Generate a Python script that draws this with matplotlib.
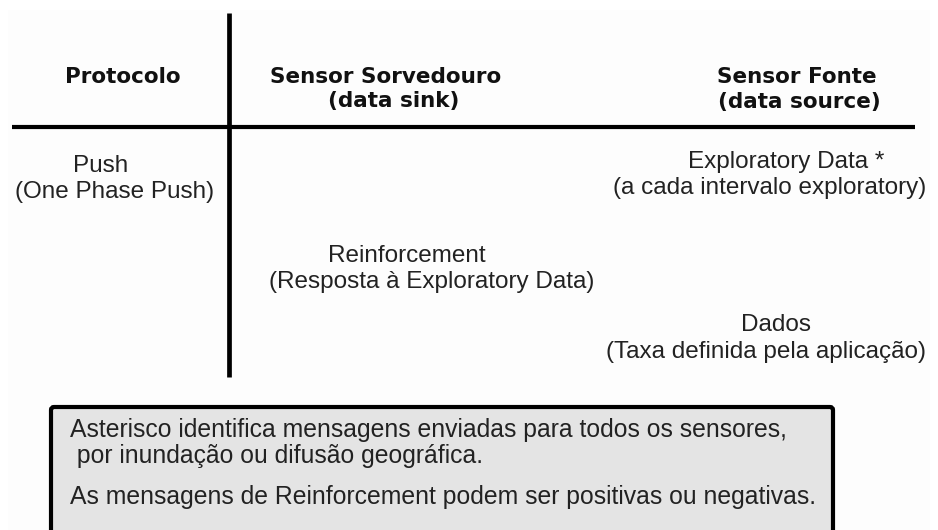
import matplotlib
matplotlib.use("Agg")
import matplotlib.pyplot as plt
from matplotlib.patches import Rectangle, FancyBboxPatch

W, H = 938, 530

# Header labels (column titles)
headers = ["Protocolo", "Sensor Sorvedouro", "(data sink)", "Sensor Fonte", "(data source)"]
header_pos = [(123, 77), (386, 77), (394, 101), (797, 77), (799, 102)]

# Body labels
body = ["Push", "(One Phase Push)",
        "Exploratory Data *", "(a cada intervalo exploratory)",
        "Reinforcement", "(Resposta à Exploratory Data)",
        "Dados", "(Taxa definida pela aplicação)"]
body_pos = [(101, 166), (115, 192),
            (786, 162), (770, 188),
            (407, 256), (432, 282),
            (776, 325), (766, 352)]

# Note box lines
notes = ["Asterisco identifica mensagens enviadas para todos os sensores,",
         " por inundação ou difusão geográfica.",
         "As mensagens de Reinforcement podem ser positivas ou negativas."]
note_x = 70
note_y = [430, 456, 497]

fig = plt.figure(figsize=(W / 100, H / 100), dpi=100)
ax = fig.add_axes([0, 0, 1, 1])
ax.set_xlim(0, W)
ax.set_ylim(H, 0)
ax.axis("off")
fig.patch.set_facecolor("white")

ax.add_patch(Rectangle((8, 10), 922, 520, facecolor="#fdfdfd", edgecolor="none", zorder=0))

# grid lines
ax.plot([12, 915], [127, 127], color="black", lw=3.0, solid_capstyle="butt", zorder=2)
ax.plot([229, 229], [13, 377], color="black", lw=3.4, solid_capstyle="butt", zorder=2)

for t, (x, y) in zip(headers, header_pos):
    ax.text(x, y, t, ha="center", va="center", fontsize=15.5, fontweight="bold",
            family="DejaVu Sans", color="#111111")

for t, (x, y) in zip(body, body_pos):
    ax.text(x, y, t, ha="center", va="center", fontsize=17.5,
            family="Liberation Sans", color="#222222")

ax.add_patch(FancyBboxPatch((51, 407), 782, 140, boxstyle="round,pad=0,rounding_size=3",
                            facecolor="#e4e4e4", edgecolor="black", lw=3.0, zorder=1))

for t, y in zip(notes, note_y):
    ax.text(note_x, y, t, ha="left", va="center", fontsize=17.8,
            family="Liberation Sans", color="#222222", zorder=3)

fig.savefig("out.png", dpi=100)
